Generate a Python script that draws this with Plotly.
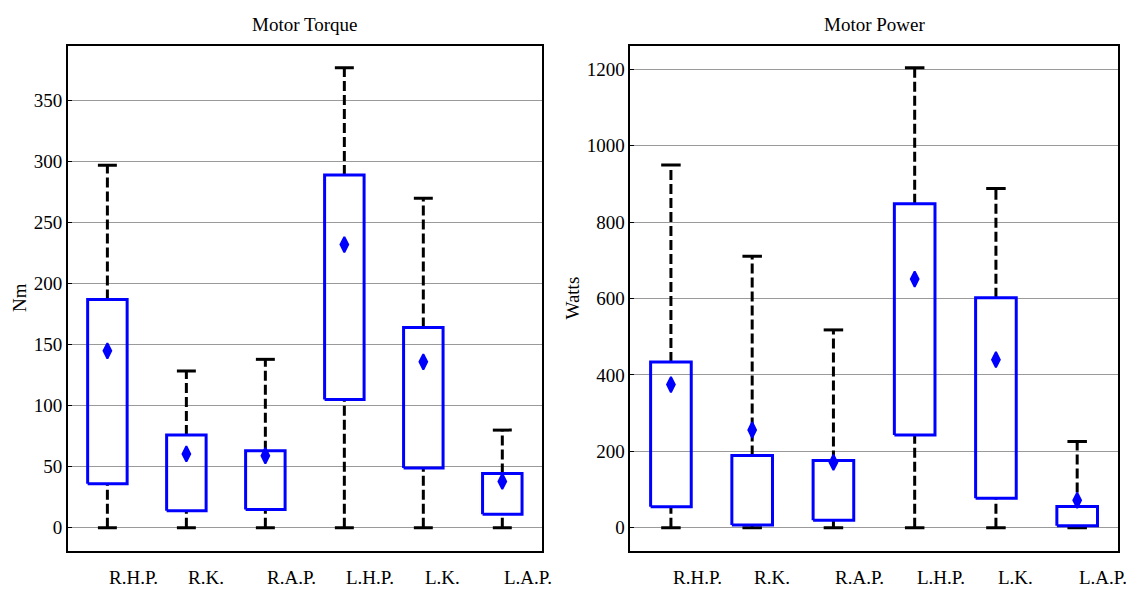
import plotly.graph_objects as go

categories = ["R.H.P.", "R.K.", "R.A.P.", "L.H.P.", "L.K.", "L.A.P."]

torque_min = [0, 0, 0, 0, 0, 0]
torque_q1 = [36, 14, 15, 105, 49, 11]
torque_q3 = [187, 76, 63, 289, 164, 44.5]
torque_max = [297, 128.5, 138, 377, 270, 80]
torque_mean = [145, 60.5, 59, 232, 136, 38]

power_min = [0, 0, 0, 0, 0, 0]
power_q1 = [55, 7, 20, 243, 77, 5]
power_q3 = [434, 189, 176, 848, 602, 56]
power_max = [950, 711, 518, 1204, 888, 226]
power_mean = [375, 256, 171, 651, 440, 72]

torque_ticks = [0, 50, 100, 150, 200, 250, 300, 350]
power_ticks = [0, 200, 400, 600, 800, 1000, 1200]

FONT = "Liberation Serif"
BOX_HALF = 0.25
CAP_HALF = 0.12

fig = go.Figure()


def add_boxes(xa, ya, vmin, q1, q3, vmax, vmean):
    pos = list(range(1, len(categories) + 1))
    # whiskers (dashed)
    wx, wy = [], []
    for p, lo, a, b, hi in zip(pos, vmin, q1, q3, vmax):
        wx += [p, p, None, p, p, None]
        wy += [b, hi, None, lo, a, None]
    fig.add_trace(go.Scatter(x=wx, y=wy, mode="lines", xaxis=xa, yaxis=ya,
                             line=dict(color="black", width=3, dash="10px,4px"),
                             hoverinfo="skip", showlegend=False))
    # caps
    cx, cy = [], []
    for p, lo, hi in zip(pos, vmin, vmax):
        cx += [p - CAP_HALF, p + CAP_HALF, None, p - CAP_HALF, p + CAP_HALF, None]
        cy += [hi, hi, None, lo, lo, None]
    fig.add_trace(go.Scatter(x=cx, y=cy, mode="lines", xaxis=xa, yaxis=ya,
                             line=dict(color="black", width=3),
                             hoverinfo="skip", showlegend=False))
    # boxes
    bx, by = [], []
    for p, a, b in zip(pos, q1, q3):
        bx += [p - BOX_HALF, p + BOX_HALF, p + BOX_HALF, p - BOX_HALF, p - BOX_HALF, None]
        by += [a, a, b, b, a, None]
    fig.add_trace(go.Scatter(x=bx, y=by, mode="lines", xaxis=xa, yaxis=ya,
                             line=dict(color="#0000ff", width=3),
                             hoverinfo="skip", showlegend=False))
    # means
    fig.add_trace(go.Scatter(x=pos, y=vmean, mode="markers", xaxis=xa, yaxis=ya,
                             marker=dict(symbol="diamond-tall", size=11, color="#0000ff",
                                         line=dict(color="#0000ff", width=2)),
                             showlegend=False))


add_boxes("x", "y", torque_min, torque_q1, torque_q3, torque_max, torque_mean)
add_boxes("x2", "y2", power_min, power_q1, power_q3, power_max, power_mean)

# page body has an 8px margin; figure coordinates are screen coordinates minus 8
OFF = 8
W, H = 1134 - 2 * OFF, 599 - 2 * OFF


def px(v):
    return (v - OFF) / W


def py(v):
    return 1 - (v - OFF) / H


ydom = [py(550.7), py(45.7)]

axis_common = dict(showline=True, linecolor="black", linewidth=1.5, mirror=True,
                   zeroline=False)
xcommon = dict(axis_common, range=[0.5, 6.5], showticklabels=False, ticks="",
               showgrid=False)
ycommon = dict(axis_common, showgrid=True, gridcolor="#9a9a9a", gridwidth=1,
               ticks="inside", ticklen=4, tickcolor="black",
               tickfont=dict(family=FONT, size=19, color="black"))

annotations = []
for xref in ("x", "x2"):
    for i, c in enumerate(categories):
        annotations.append(dict(x=i + 1, y=py(577), xref=xref, yref="paper",
                                text=c, showarrow=False, xanchor="left", yanchor="middle",
                                font=dict(family=FONT, size=19, color="black")))

annotations += [
    dict(x=px(304.9), y=py(25), xref="paper", yref="paper", text="Motor Torque",
         showarrow=False, xanchor="center", yanchor="middle",
         font=dict(family=FONT, size=19, color="black")),
    dict(x=px(874), y=py(25), xref="paper", yref="paper", text="Motor Power",
         showarrow=False, xanchor="center", yanchor="middle",
         font=dict(family=FONT, size=19, color="black")),
    dict(x=px(19), y=py(298), xref="paper", yref="paper", text="Nm",
         showarrow=False, xanchor="center", yanchor="middle", textangle=-90,
         font=dict(family=FONT, size=19, color="black")),
    dict(x=px(571.5), y=py(298), xref="paper", yref="paper", text="Watts",
         showarrow=False, xanchor="center", yanchor="middle", textangle=-90,
         font=dict(family=FONT, size=19, color="black")),
]

fig.update_layout(
    width=W, height=H,
    margin=dict(l=0, r=0, t=0, b=0),
    paper_bgcolor="white", plot_bgcolor="white",
    xaxis=dict(xcommon, domain=[px(67.9), px(541.8)], anchor="y"),
    yaxis=dict(ycommon, domain=ydom, range=[-18.8, 395], tickvals=torque_ticks,
               anchor="x"),
    xaxis2=dict(xcommon, domain=[px(630.3), px(1117.8)], anchor="y2"),
    yaxis2=dict(ycommon, domain=ydom, range=[-60, 1262], tickvals=power_ticks,
                anchor="x2"),
    annotations=annotations,
)

fig.write_html("out.html")
